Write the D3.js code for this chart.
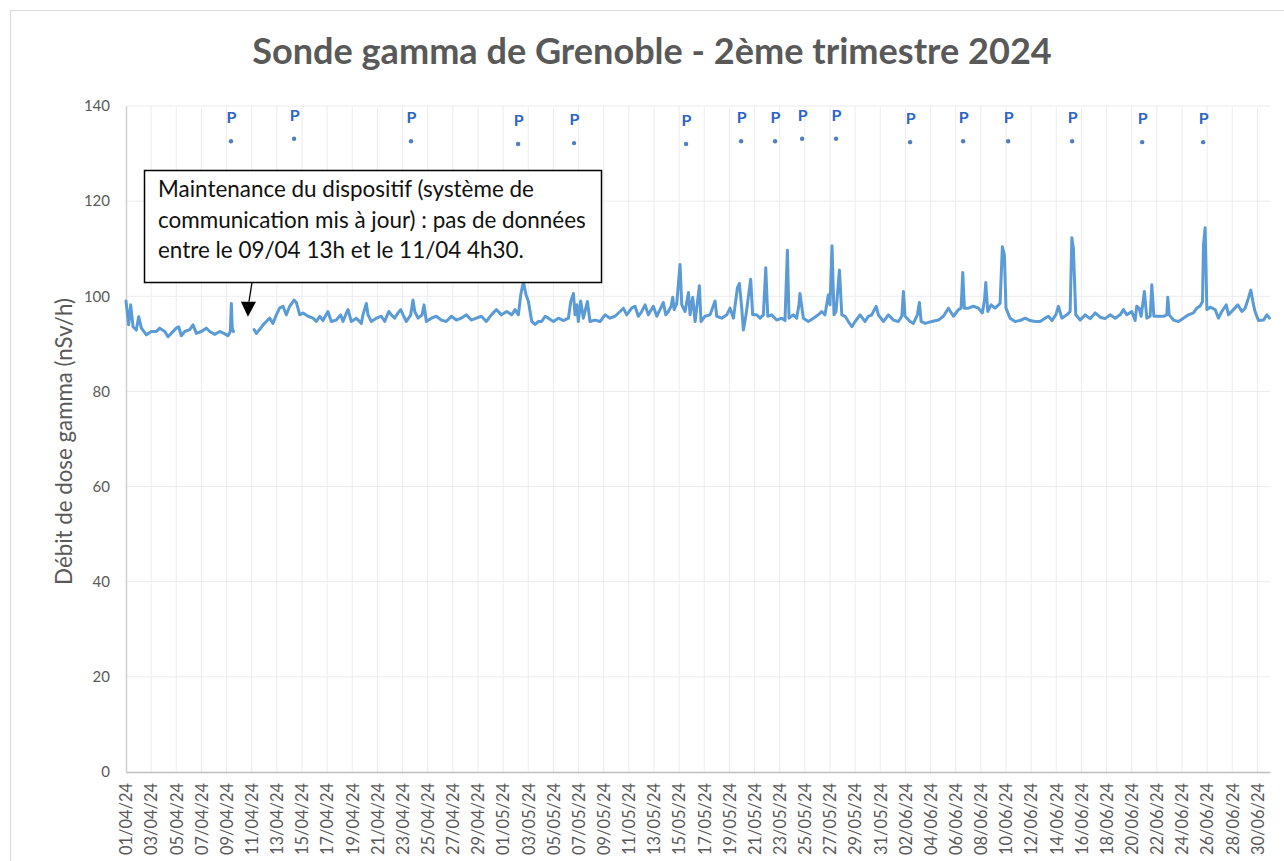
<!DOCTYPE html>
<html><head><meta charset="utf-8">
<script src="https://cdn.jsdelivr.net/npm/d3@7"></script>
<style>body{margin:0;background:#fff}svg{display:block}</style>
</head><body><svg id="c" width="1284" height="861"></svg>
<script>
const chartTitle = "Sonde gamma de Grenoble - 2ème trimestre 2024";
const yAxisTitle = "Débit de dose gamma (nSv/h)";
const yTicks = [0, 20, 40, 60, 80, 100, 120, 140];
const xTickLabels = ["01/04/24","03/04/24","05/04/24","07/04/24","09/04/24","11/04/24","13/04/24","15/04/24","17/04/24","19/04/24","21/04/24","23/04/24","25/04/24","27/04/24","29/04/24","01/05/24","03/05/24","05/05/24","07/05/24","09/05/24","11/05/24","13/05/24","15/05/24","17/05/24","19/05/24","21/05/24","23/05/24","25/05/24","27/05/24","29/05/24","31/05/24","02/06/24","04/06/24","06/06/24","08/06/24","10/06/24","12/06/24","14/06/24","16/06/24","18/06/24","20/06/24","22/06/24","24/06/24","26/06/24","28/06/24","30/06/24"];
const xTickDays = [0,2,4,6,8,10,12,14,16,18,20,22,24,26,28,30,32,34,36,38,40,42,44,46,48,50,52,54,56,58,60,62,64,66,68,70,72,74,76,78,80,82,84,86,88,90];
// days since 01/04/2024 00:00 ; null value = missing data
const doseDays = [0.00,0.21,0.37,0.56,0.82,1.01,1.22,1.62,2.01,2.41,2.68,3.08,3.34,3.60,4.00,4.19,4.40,4.67,5.07,5.33,5.60,6.00,6.38,6.66,7.06,7.45,7.79,8.11,8.30,8.38,8.45,8.54,
 9.50,
 10.19,10.37,10.63,10.90,11.16,11.43,11.69,11.96,12.22,12.49,12.75,13.02,13.37,13.55,13.82,14.08,14.48,14.88,15.14,15.41,15.67,16.06,16.33,16.73,17.07,17.26,17.53,17.66,17.92,18.32,18.72,18.85,19.12,19.25,19.52,19.91,20.31,20.58,20.90,21.11,21.37,21.64,21.85,22.04,22.30,22.65,22.83,22.97,23.23,23.55,23.71,23.89,24.29,24.68,25.08,25.48,25.88,26.28,26.67,27.07,27.47,27.87,28.27,28.66,29.06,29.46,29.86,
 30.29,30.68,30.95,31.21,31.40,31.61,31.82,32.01,32.28,32.54,32.81,33.07,33.34,33.60,34.00,34.40,34.80,35.19,35.38,35.59,35.72,35.86,35.98,36.17,36.38,36.70,36.91,37.31,37.71,38.11,38.50,38.90,39.30,39.56,39.83,40.22,40.49,40.75,41.02,41.29,41.55,41.95,42.22,42.48,42.74,42.94,43.14,43.36,43.49,43.60,43.81,44.07,44.21,44.47,44.74,44.87,45.08,45.27,45.61,45.74,46.06,46.46,46.86,46.99,47.39,47.79,48.05,48.32,48.63,48.79,48.98,49.11,49.32,49.69,49.85,50.17,50.44,50.70,50.89,51.05,51.36,51.76,52.16,52.42,52.61,52.74,53.08,53.35,53.53,53.61,53.88,54.28,54.68,55.07,55.34,55.60,55.87,56.00,56.16,56.32,56.48,56.75,56.94,57.20,57.46,57.74,58.00,58.39,58.79,59.05,59.32,59.67,59.85,60.25,
 60.64,61.04,61.44,61.71,61.84,61.97,62.37,62.63,62.95,63.11,63.25,63.56,64.10,64.63,65.02,65.42,65.82,66.22,66.43,66.56,66.69,67.01,67.41,67.81,68.12,68.29,68.39,68.55,68.82,69.13,69.53,69.71,69.87,70.00,70.32,70.72,71.12,71.52,71.92,72.32,72.71,73.11,73.38,73.65,73.96,74.17,74.44,74.84,75.10,75.24,75.36,75.55,75.90,76.30,76.69,77.09,77.49,77.88,78.28,78.68,79.08,79.34,79.61,80.00,80.27,80.40,80.59,80.75,81.01,81.20,81.47,81.60,81.76,82.13,82.53,82.79,82.87,82.98,83.32,83.72,84.11,84.51,84.91,85.18,85.45,85.63,85.71,85.84,85.98,86.24,86.64,86.90,87.17,87.52,87.70,88.09,88.44,88.76,89.02,89.28,89.47,89.69,89.81,90.08,90.48,90.75,90.96];
const doseValues = [99.0,94.0,98.2,93.6,92.9,95.7,93.3,91.9,92.6,92.6,93.3,92.6,91.5,92.2,93.3,93.6,91.7,92.6,93.0,94.0,92.2,92.6,93.3,92.6,92.0,92.6,92.2,91.7,92.6,98.5,93.3,92.6,
 null,
 93.0,92.2,93.0,94.0,94.7,95.4,94.3,96.1,97.5,97.9,96.1,97.9,99.2,98.7,96.1,96.5,95.8,95.4,94.7,95.8,94.9,96.8,94.7,95.0,96.1,94.7,96.5,97.2,94.7,95.4,94.3,96.1,98.5,96.1,94.7,95.4,95.8,94.7,96.8,96.1,95.4,96.5,97.2,96.1,94.7,96.1,99.2,96.8,95.4,96.1,98.2,94.7,95.4,95.8,95.0,94.7,95.8,95.0,95.4,96.1,95.0,95.4,95.8,94.7,96.1,97.2,96.1,
 96.8,96.1,97.2,96.1,100.3,103.1,100.3,98.9,94.7,94.1,94.7,94.7,95.8,95.4,94.7,95.4,94.9,95.4,98.9,100.6,96.1,98.2,94.7,99.0,95.4,98.9,94.7,95.0,94.7,96.1,95.4,95.8,96.8,97.5,96.1,97.5,97.9,95.8,96.8,98.2,96.1,97.9,95.8,97.2,98.7,96.1,96.8,97.9,99.8,97.2,98.5,106.7,98.2,96.8,100.8,96.1,99.8,94.7,102.2,94.7,95.8,96.1,99.0,95.8,95.4,96.1,97.5,95.4,101.7,102.7,97.5,92.9,96.1,103.6,96.1,96.1,95.4,96.1,106.0,95.8,96.1,95.0,95.4,94.9,109.7,95.4,96.1,95.4,98.2,100.6,95.4,94.7,95.4,96.1,96.8,96.1,100.3,98.2,110.6,96.1,96.8,105.5,96.1,95.8,94.7,93.6,94.7,96.1,94.7,95.8,96.1,97.9,96.1,94.7,
 96.1,95.0,94.7,95.8,101.0,95.8,94.7,94.3,96.1,98.7,94.7,94.3,94.7,95.0,95.8,97.5,95.8,97.2,97.5,105.0,97.5,97.5,97.9,97.5,96.5,99.2,102.9,96.8,98.2,97.5,98.5,110.4,108.7,97.5,95.4,94.7,94.9,95.4,94.9,94.7,94.7,95.4,95.8,94.9,96.1,97.9,95.4,96.1,96.8,112.3,110.1,96.1,95.0,96.1,95.3,96.5,95.6,95.3,96.1,95.4,96.1,97.2,96.1,96.8,94.9,97.9,97.5,95.8,101.0,95.4,95.8,102.4,95.8,95.8,95.8,96.1,99.8,96.1,95.0,94.7,95.4,96.1,96.5,97.5,98.0,98.9,110.8,114.4,97.2,97.7,97.2,95.4,96.8,98.2,96.1,97.2,98.2,96.8,97.5,99.6,101.3,98.2,96.8,94.9,95.0,96.1,95.4];
// precipitation markers ("P")
const pDays = [8.35,13.37,22.67,31.19,35.64,44.55,48.93,51.63,53.78,56.48,62.37,66.59,70.17,75.26,80.83,85.68];
const pValues = [132.6,133.1,132.6,132.0,132.2,132.0,132.6,132.6,133.1,133.1,132.4,132.6,132.6,132.6,132.4,132.4];
const pText = "P";
const noteLines = ["Maintenance du dispositif (système de", "communication mis à jour) : pas de données", "entre le 09/04 13h  et le 11/04 4h30."];
const noteTarget = [9.7, 95.7];

const svg = d3.select("#c");
const W = 1284, H = 861;
const m = {left: 126, right: 1270, top: 106, bottom: 772};
const FONT = "Lato, 'Open Sans', 'DejaVu Sans', sans-serif";
const GREY = "#595959";

function fit(sel, target) {
  const n = sel.node();
  const fs = parseFloat(sel.attr("font-size"));
  const w = n.getComputedTextLength();
  sel.attr("font-size", (fs * target / w).toFixed(2));
}

svg.append("rect").attr("x", 0).attr("y", 0).attr("width", W).attr("height", H).attr("fill", "#fff");
svg.append("rect").attr("x", 10.5).attr("y", 10.5).attr("width", 1400).attr("height", 1000)
  .attr("fill", "none").attr("stroke", "#d9d9d9");

const x = d3.scaleLinear().domain([0, 91]).range([m.left, m.right]);
const y = d3.scaleLinear().domain([0, 140]).range([m.bottom, m.top]);

// gridlines
svg.append("g").selectAll("line").data(yTicks.filter(d => d > 0)).join("line")
  .attr("x1", m.left).attr("x2", m.right)
  .attr("y1", d => y(d)).attr("y2", d => y(d))
  .attr("stroke", "#ececec").attr("stroke-width", 1);
svg.append("g").selectAll("line").data(xTickDays.filter(d => d > 0)).join("line")
  .attr("x1", d => x(d)).attr("x2", d => x(d))
  .attr("y1", m.top).attr("y2", m.bottom)
  .attr("stroke", "#ececec").attr("stroke-width", 1);

// y axis
const yAxis = svg.append("g").attr("transform", `translate(${m.left},0)`)
  .call(d3.axisLeft(y).tickValues(yTicks).tickSize(0).tickPadding(16));
yAxis.select(".domain").attr("stroke", "#d0d0d0").attr("stroke-width", 1.5);
yAxis.selectAll("text").attr("font-family", FONT).attr("font-size", 15).attr("fill", GREY);

// x axis
const xAxis = svg.append("g").attr("transform", `translate(0,${m.bottom})`)
  .call(d3.axisBottom(x).tickValues(xTickDays).tickSize(0).tickFormat((d, i) => xTickLabels[i]));
xAxis.select(".domain").attr("stroke", "#bfbfbf").attr("stroke-width", 1.5);
xAxis.selectAll("text")
  .attr("font-family", FONT).attr("font-size", 15).attr("fill", GREY)
  .attr("text-anchor", "end").attr("dy", "0.35em")
  .attr("transform", "translate(0,11) rotate(-90)")
  .attr("x", 0).attr("y", 0);
xAxis.selectAll("text").each(function() { fit(d3.select(this), 72); });

// y axis title
const yt = svg.append("text").attr("transform", `translate(64,${(298 + 585) / 2}) rotate(-90)`)
  .attr("text-anchor", "middle").attr("dy", "0.35em")
  .attr("font-family", FONT).attr("font-size", 19).attr("fill", GREY).text(yAxisTitle);
fit(yt, 287);

// title
const tt = svg.append("text").attr("x", 652).attr("y", 64).attr("text-anchor", "middle")
  .attr("font-family", FONT).attr("font-weight", "bold").attr("font-size", 32).attr("fill", GREY)
  .text(chartTitle);
fit(tt, 800);

// data line
const pts = doseDays.map((d, i) => [d, doseValues[i]]);
const line = d3.line().defined(d => d[1] != null).x(d => x(d[0])).y(d => y(d[1]));
svg.append("path").datum(pts).attr("d", line)
  .attr("fill", "none").attr("stroke", "#5b9bd5").attr("stroke-width", 3)
  .attr("stroke-linejoin", "round").attr("stroke-linecap", "round");

// P markers
const pg = svg.append("g");
const pd = pDays.map((d, i) => [d, pValues[i]]);
pg.selectAll("circle").data(pd).join("circle")
  .attr("cx", d => x(d[0])).attr("cy", d => y(d[1])).attr("r", 2.2).attr("fill", "#4f7fbf");
pg.selectAll("text").data(pd).join("text")
  .attr("x", d => x(d[0]) + 0.5).attr("y", d => y(d[1]) - 18)
  .attr("text-anchor", "middle").attr("font-family", FONT).attr("font-weight", "bold")
  .attr("font-size", 16).attr("fill", "#2c64c8").text(pText);

// annotation box
const box = {x: 144.5, y: 170.5, w: 457, h: 112};
const ag = svg.append("g");
ag.append("rect").attr("x", box.x).attr("y", box.y).attr("width", box.w).attr("height", box.h)
  .attr("fill", "#fff").attr("stroke", "#000").attr("stroke-width", 1.5);
const lineYs = [197, 228, 258];
const tl = ag.selectAll("text").data(noteLines).join("text")
  .attr("x", 158).attr("y", (d, i) => lineYs[i])
  .attr("font-family", FONT).attr("font-size", 19).attr("fill", "#111").text(d => d);
const l2 = d3.select(tl.nodes()[1]);
fit(l2, 428);
const fs = l2.attr("font-size");
tl.attr("font-size", fs);

// arrow
const tipX = x(noteTarget[0]), tipY = y(noteTarget[1]);
const startX = tipX + 4, startY = box.y + box.h;
const baseY = tipY - 15;
ag.append("line").attr("x1", startX).attr("y1", startY).attr("x2", tipX + 1).attr("y2", baseY)
  .attr("stroke", "#000").attr("stroke-width", 1.3);
ag.append("path").attr("d", `M${tipX - 7},${baseY} L${tipX + 8},${baseY} L${tipX},${tipY} Z`).attr("fill", "#000");
</script></body></html>
